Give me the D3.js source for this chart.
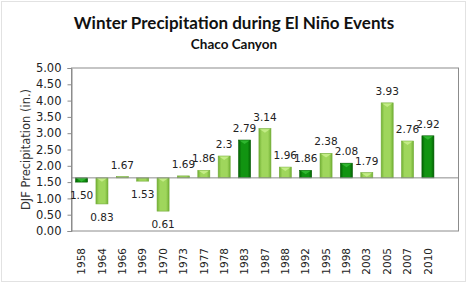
<!DOCTYPE html>
<html>
<head>
<meta charset="utf-8">
<script src="https://cdn.jsdelivr.net/npm/d3@7"></script>
<style>
  body { margin: 0; background: #fff; }
  svg { display: block; }
</style>
</head>
<body>
<div id="chart"></div>
<script>
// Chart data
const years = ["1958", "1964", "1966", "1969", "1970", "1973", "1977", "1978", "1983",
    "1987", "1988", "1992", "1995", "1998", "2003", "2005", "2007", "2010"]
const precip = [1.50, 0.83, 1.67, 1.53, 0.61, 1.69, 1.86, 2.3, 2.79,
    3.14, 1.96, 1.86, 2.38, 2.08, 1.79, 3.93, 2.76, 2.92]
const labels = ["1.50", "0.83", "1.67", "1.53", "0.61", "1.69", "1.86", "2.3", "2.79",
    "3.14", "1.96", "1.86", "2.38", "2.08", "1.79", "3.93", "2.76", "2.92"]
const darkYears = ["1958", "1983", "1992", "1998", "2010"]
const baselineValue = 1.63
const yTicks = [0, 0.5, 1, 1.5, 2, 2.5, 3, 3.5, 4, 4.5, 5]

function drawChart() {
    const data = years.map((y, i) => ({ year: y, value: precip[i], label: labels[i] }))

    const dimensions = {
        width: 474,
        height: 284,
        plot: { left: 71.5, right: 458.5, top: 68, bottom: 231 },
        barsRight: 438
    }

    const wrapper = d3.select("#chart").append("svg")
        .attr("width", dimensions.width)
        .attr("height", dimensions.height)

    // gradients for the bevelled excel look
    const defs = wrapper.append("defs")
    const makeGrad = (id, edge, mid) => {
        const g = defs.append("linearGradient").attr("id", id)
            .attr("x1", "0%").attr("x2", "100%").attr("y1", "0%").attr("y2", "0%")
        g.append("stop").attr("offset", "0%").attr("stop-color", edge)
        g.append("stop").attr("offset", "25%").attr("stop-color", mid)
        g.append("stop").attr("offset", "75%").attr("stop-color", mid)
        g.append("stop").attr("offset", "100%").attr("stop-color", edge)
    }
    makeGrad("lightGrad", "#72b034", "#9fd65c")
    makeGrad("darkGrad", "#036303", "#119411")

    // outer chart frame
    wrapper.append("rect")
        .attr("x", 1.5).attr("y", 1.5)
        .attr("width", 464).attr("height", 280)
        .attr("fill", "#fff")
        .attr("stroke", "#e2e2e2")

    const p = dimensions.plot

    // scales
    const xScale = d3.scaleBand()
        .domain(years)
        .range([p.left, dimensions.barsRight])
        .paddingInner(0.41)
        .paddingOuter(0.2)

    const yScale = d3.scaleLinear()
        .domain([0, 5])
        .range([p.bottom, p.top])

    // plot area frame
    wrapper.append("rect")
        .attr("x", p.left).attr("y", p.top)
        .attr("width", p.right - p.left).attr("height", p.bottom - p.top)
        .attr("fill", "none")
        .attr("stroke", "#8c8c8c")

    // y axis
    const yAxis = wrapper.append("g")
        .attr("transform", `translate(${p.left},0)`)
        .call(d3.axisLeft(yScale).tickValues(yTicks).tickFormat(d3.format(".2f")).tickSize(4).tickPadding(6))
    yAxis.select(".domain").attr("stroke", "#8c8c8c")
    yAxis.selectAll(".tick line").attr("stroke", "#8c8c8c")
    yAxis.selectAll("text")
        .attr("font-family", "DejaVu Sans, Verdana, sans-serif")
        .attr("font-size", 11.5)
        .attr("fill", "#222")

    // x axis labels (rotated)
    const xAxis = wrapper.append("g")
        .attr("transform", `translate(0,${p.bottom})`)
        .call(d3.axisBottom(xScale).tickSize(0).tickPadding(0))
    xAxis.select(".domain").remove()
    xAxis.selectAll("text")
        .attr("font-family", "DejaVu Sans, Verdana, sans-serif")
        .attr("font-size", 10.5)
        .attr("fill", "#222")
        .attr("transform", "rotate(-90)")
        .attr("text-anchor", "end")
        .attr("x", -17)
        .attr("y", 0)
        .attr("dy", "0.35em")

    // bars from baseline to value
    const base = yScale(baselineValue)
    const bars = wrapper.append("g")
    bars.selectAll("rect")
        .data(data)
        .join("rect")
        .attr("x", d => xScale(d.year))
        .attr("width", xScale.bandwidth())
        .attr("y", d => Math.min(base, yScale(d.value)))
        .attr("height", d => Math.max(1, Math.abs(base - yScale(d.value))))
        .attr("fill", d => darkYears.includes(d.year) ? "url(#darkGrad)" : "url(#lightGrad)")
        .attr("stroke", d => darkYears.includes(d.year) ? "#045c04" : "#74ad3a")
        .attr("stroke-width", 0.6)

    // bevel notch on the top of the bars
    bars.selectAll("path.notch")
        .data(data.filter(d => Math.abs(base - yScale(d.value)) > 4))
        .join("path")
        .attr("class", "notch")
        .attr("d", d => {
            const x0 = xScale(d.year), w = xScale.bandwidth()
            const top = Math.min(base, yScale(d.value))
            return `M${x0 + 1},${top + 0.5} L${x0 + w - 1},${top + 0.5} L${x0 + w / 2},${top + 4} Z`
        })
        .attr("fill", d => darkYears.includes(d.year) ? "#2fb62f" : "#c3ec86")

    // baseline line
    wrapper.append("line")
        .attr("x1", p.left).attr("x2", p.right)
        .attr("y1", base).attr("y2", base)
        .attr("stroke", "#8c8c8c")

    // value labels
    wrapper.append("g").selectAll("text")
        .data(data)
        .join("text")
        .attr("x", d => xScale(d.year) + xScale.bandwidth() / 2)
        .attr("y", d => d.value >= baselineValue ? yScale(d.value) - 8 : yScale(d.value) + 17)
        .attr("text-anchor", "middle")
        .attr("font-family", "DejaVu Sans, Verdana, sans-serif")
        .attr("font-size", 10.5)
        .attr("fill", "#222")
        .text(d => d.label)

    // y axis title
    wrapper.append("text")
        .attr("transform", `translate(30,${(p.top + p.bottom) / 2}) rotate(-90)`)
        .attr("text-anchor", "middle")
        .attr("font-family", "DejaVu Sans, Verdana, sans-serif")
        .attr("font-size", 11.5)
        .attr("fill", "#333")
        .text("DJF Precipitation (in.)")

    // titles
    wrapper.append("text")
        .attr("x", 234).attr("y", 29)
        .attr("text-anchor", "middle")
        .attr("font-family", "Lato, Open Sans, sans-serif")
        .attr("font-weight", "bold")
        .attr("font-size", 17)
        .attr("fill", "#111")
        .text("Winter Precipitation during El Niño Events")

    wrapper.append("text")
        .attr("x", 234).attr("y", 49)
        .attr("text-anchor", "middle")
        .attr("font-family", "Lato, Open Sans, sans-serif")
        .attr("font-weight", "bold")
        .attr("font-size", 13.5)
        .attr("fill", "#111")
        .text("Chaco Canyon")
}

drawChart()
</script>
</body>
</html>
